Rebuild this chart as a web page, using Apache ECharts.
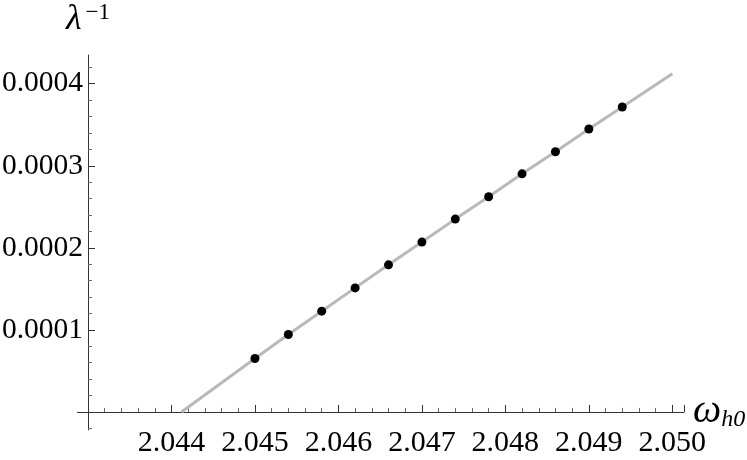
<!DOCTYPE html>
<html lang="en">
    <head>
        <meta charset="UTF-8">
        <title>ECharts</title>
        <style type="text/css">
            body {margin: 0px; background-color: #ffffff;}
        </style>
        <!-- import echarts library -->
        <script src="https://cdn.jsdelivr.net/npm/echarts@6/dist/echarts.min.js"></script>
    </head>
    <body>
        <div id="main" style="height: 460px;width: 747px;"></div>
        <script type="text/javascript">
            // computed points (dots)
            var dotX = [2.045, 2.0454, 2.0458, 2.0462, 2.0466, 2.047, 2.0474, 2.0478, 2.0482, 2.0486, 2.049, 2.0494];
            var dotY = [0.0000651, 0.0000944, 0.0001228, 0.0001512, 0.0001793, 0.0002070, 0.0002350, 0.0002622, 0.0002902, 0.0003171, 0.0003448, 0.0003716];

            // gray curve
            var curveX = [2.04412, 2.045, 2.0454, 2.0458, 2.0462, 2.0466, 2.047, 2.0474, 2.0478, 2.0482, 2.0486, 2.049, 2.0494, 2.050];
            var curveY = [0, 0.0000651, 0.0000944, 0.0001228, 0.0001512, 0.0001793, 0.0002070, 0.0002350, 0.0002622, 0.0002902, 0.0003171, 0.0003448, 0.0003716, 0.000412];

            // y axis ticks
            var yMajorTicks = [0, 0.0001, 0.0002, 0.0003, 0.0004];
            var yTickLabels = [0.0001, 0.0002, 0.0003, 0.0004];
            var yMinorTicks = [-0.00002, 0.00002, 0.00004, 0.00006, 0.00008, 0.00012, 0.00014, 0.00016, 0.00018,
                0.00022, 0.00024, 0.00026, 0.00028, 0.00032, 0.00034, 0.00036, 0.00038, 0.00042];

            function pairs(xs, ys) {
                var out = [];
                for (var i = 0; i < xs.length; i++) {
                    out.push([xs[i], ys[i]]);
                }
                return out;
            }

            var font = 'Liberation Serif';
            var axisColor = '#333333';

            var yMin = -0.000022, yMax = 0.000435;

            function yAxisBase() {
                return {
                    type: 'value',
                    position: 'left',
                    offset: 0,
                    min: yMin,
                    max: yMax,
                    splitLine: {show: false},
                    axisLine: {show: false},
                    axisLabel: {show: false},
                    axisTick: {show: false}
                };
            }

            var y0 = yAxisBase();
            y0.axisLine = {show: true, onZero: false, lineStyle: {color: axisColor, width: 1}};
            y0.axisTick = {show: true, inside: true, length: 7, customValues: yMajorTicks, lineStyle: {color: axisColor}};
            y0.axisLabel = {
                show: true, customValues: yTickLabels, margin: 5,
                fontFamily: font, fontSize: 29.5, color: '#000',
                formatter: function (v) { return v.toFixed(4); }
            };
            y0.name = '{l|λ}{s|−1}';
            y0.nameLocation = 'end';
            y0.nameGap = 17;
            y0.nameTextStyle = {
                rich: {
                    l: {fontFamily: font, fontStyle: 'italic', fontSize: 36, color: '#000', verticalAlign: 'bottom'},
                    s: {fontFamily: font, fontSize: 23, color: '#000', verticalAlign: 'top', padding: [0, 0, 14, 4]}
                }
            };

            var y1 = yAxisBase();
            y1.axisTick = {show: true, inside: true, length: 4, customValues: yMinorTicks, lineStyle: {color: '#666666'}};

            // little stub of the x axis sticking out left of the y axis
            var y2 = yAxisBase();
            y2.axisTick = {show: true, inside: false, length: 11, customValues: [0], lineStyle: {color: axisColor}};

            var option = {
                animation: false,
                grid: {left: 88, right: 63, top: 55, bottom: 30, containLabel: false, outerBoundsMode: 'none'},
                xAxis: {
                    type: 'value',
                    min: 2.043,
                    max: 2.05014,
                    interval: 0.001,
                    splitLine: {show: false},
                    axisLine: {show: true, onZero: true, lineStyle: {color: axisColor, width: 1}},
                    axisTick: {show: true, inside: true, length: 7, lineStyle: {color: axisColor}},
                    minorTick: {show: true, splitNumber: 5, length: 4, lineStyle: {color: '#666666'}},
                    axisLabel: {
                        margin: -2, fontFamily: font, fontSize: 30, color: '#000',
                        showMaxLabel: false,
                        formatter: function (v) { return v < 2.0435 ? '' : v.toFixed(3); }
                    },
                    name: '{w|ω}{s|h0}',
                    nameLocation: 'end',
                    nameGap: 9,
                    nameMoveOverlap: false,
                    nameTextStyle: {
                        rich: {
                            w: {fontFamily: font, fontStyle: 'italic', fontSize: 40, color: '#000', verticalAlign: 'middle'},
                            s: {fontFamily: font, fontStyle: 'italic', fontSize: 24, color: '#000', verticalAlign: 'bottom', padding: [16, 0, 0, 0]}
                        }
                    }
                },
                yAxis: [y0, y1, y2],
                series: [
                    {
                        type: 'line',
                        data: pairs(curveX, curveY),
                        showSymbol: false,
                        symbol: 'none',
                        lineStyle: {color: '#b9b9b9', width: 3},
                        z: 2
                    },
                    {
                        type: 'scatter',
                        data: pairs(dotX, dotY),
                        symbol: 'circle',
                        symbolSize: 9,
                        itemStyle: {color: '#000000', opacity: 1},
                        z: 3
                    }
                ]
            };

            var myChart = echarts.init(document.getElementById('main'));
            myChart.setOption(option);
        </script>
    </body>
</html>
